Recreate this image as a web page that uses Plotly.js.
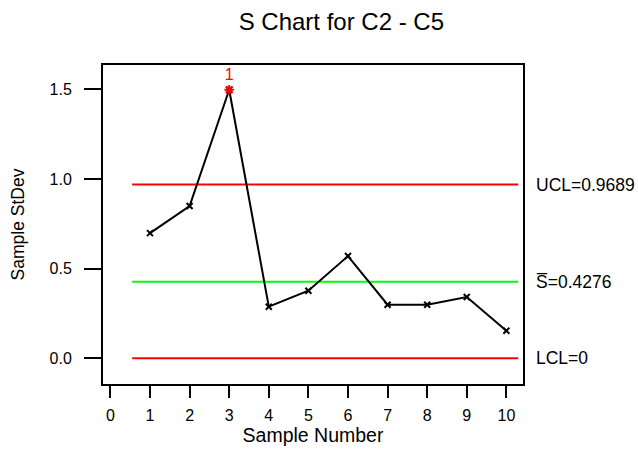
<!DOCTYPE html>
<html>
<head>
<meta charset="utf-8">
<script src="https://cdn.plot.ly/plotly-3.0.1.min.js"></script>
<style>
  html, body { margin: 0; padding: 0; background: #fff; }
  #chart { width: 638px; height: 450px; }
</style>
</head>
<body>
<div id="chart"></div>
<script>
// Subgroup standard deviations for samples of C2 - C5
const sampleNumbers = [1, 2, 3, 4, 5, 6, 7, 8, 9, 10];
const sampleStDev = [0.698, 0.849, 1.497, 0.288, 0.377, 0.570, 0.299, 0.299, 0.342, 0.154];

// Control limits
const ucl = 0.9689;
const sBar = 0.4276;
const lcl = 0;
const limitSpan = [0.55, 10.3];

// Samples flagged by test 1 (point beyond control limits)
const flaggedSamples = [3];
const flaggedValues = [1.497];
const flagLabels = ['1'];

const xTicks = [0, 1, 2, 3, 4, 5, 6, 7, 8, 9, 10];
const yTicks = [0, 0.5, 1.0, 1.5];

const font = 'Arial, "Liberation Sans", sans-serif';

const traces = [
  {
    x: limitSpan, y: [ucl, ucl], mode: 'lines',
    line: { color: '#ff0000', width: 2 }, hoverinfo: 'skip'
  },
  {
    x: limitSpan, y: [sBar, sBar], mode: 'lines',
    line: { color: '#00ff00', width: 2 }, hoverinfo: 'skip'
  },
  {
    x: limitSpan, y: [lcl, lcl], mode: 'lines',
    line: { color: '#ff0000', width: 2 }, hoverinfo: 'skip'
  },
  {
    x: sampleNumbers, y: sampleStDev, mode: 'lines+markers',
    line: { color: '#000000', width: 2 },
    marker: { symbol: 'x-thin', size: 6, color: '#000000', line: { color: '#000000', width: 2 } }
  },
  {
    x: flaggedSamples, y: flaggedValues, mode: 'markers+text',
    text: flagLabels, textposition: 'top center',
    textfont: { family: font, size: 16, color: '#ff0000' },
    marker: { symbol: 'asterisk-open', size: 8, color: '#ff0000', line: { color: '#ff0000', width: 2 } }
  }
];

const labelFont = { family: font, size: 17.5, color: '#000' };

const layout = {
  width: 638, height: 450,
  margin: { l: 103, r: 115, t: 65, b: 66 },
  paper_bgcolor: '#fff', plot_bgcolor: '#fff',
  showlegend: false,
  font: { family: font, color: '#000' },
  title: {
    text: 'S Chart for C2 - C5',
    font: { family: font, size: 24, color: '#000' },
    x: 0.535, xanchor: 'center', y: 0.952, yanchor: 'middle'
  },
  xaxis: {
    range: [-0.187, 10.42],
    tickvals: xTicks,
    ticks: 'outside', ticklen: 12, tickwidth: 2, tickcolor: '#000',
    ticklabelstandoff: 4,
    showgrid: false, zeroline: false,
    showline: true, mirror: true, linecolor: '#000', linewidth: 2,
    tickfont: { family: font, size: 16, color: '#000' },
    title: { text: 'Sample Number', font: { family: font, size: 19.5, color: '#000' }, standoff: 4 }
  },
  yaxis: {
    range: [-0.143, 1.635],
    tickvals: yTicks, tickformat: '.1f',
    ticks: 'outside', ticklen: 17, tickwidth: 2, tickcolor: '#000',
    ticklabelstandoff: 9,
    showgrid: false, zeroline: false,
    showline: true, mirror: true, linecolor: '#000', linewidth: 2,
    tickfont: { family: font, size: 16, color: '#000' },
    title: { text: 'Sample StDev', font: { family: font, size: 17.5, color: '#000' }, standoff: 20 }
  },
  annotations: [
    { x: 1, xref: 'paper', xshift: 11, y: ucl, yref: 'y', text: 'UCL=0.9689',
      showarrow: false, xanchor: 'left', yanchor: 'middle', font: labelFont },
    { x: 1, xref: 'paper', xshift: 11, y: sBar, yref: 'y', text: 'S\u0305=0.4276',
      showarrow: false, xanchor: 'left', yanchor: 'middle', font: labelFont },
    { x: 1, xref: 'paper', xshift: 11, y: lcl, yref: 'y', text: 'LCL=0',
      showarrow: false, xanchor: 'left', yanchor: 'middle', font: labelFont }
  ]
};

Plotly.newPlot('chart', traces, layout, { displayModeBar: false, staticPlot: true });
</script>
</body>
</html>
